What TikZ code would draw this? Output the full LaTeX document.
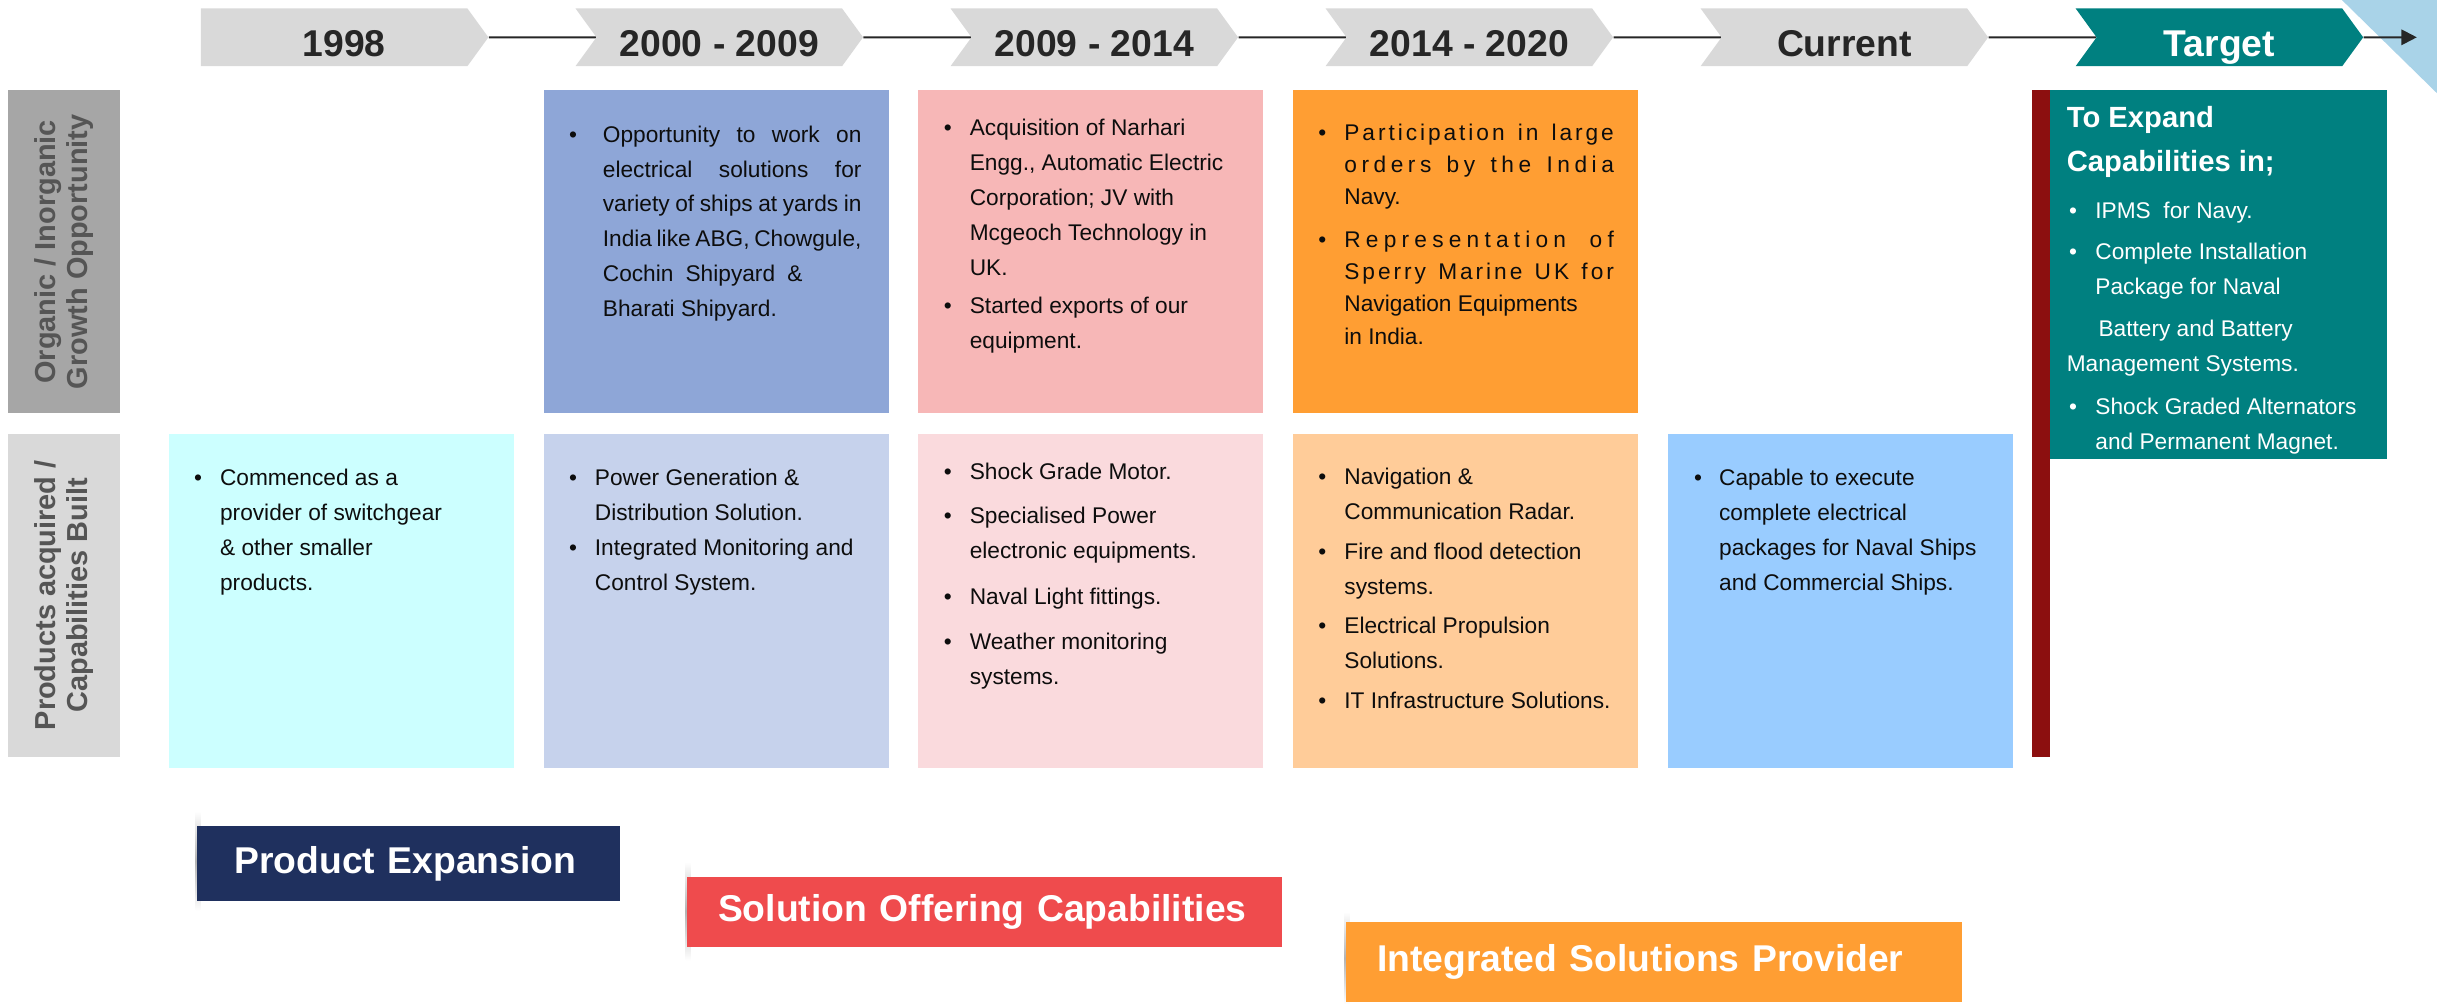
\documentclass[tikz,border=0pt]{standalone}
\usepackage{fontspec}
\setmainfont{Liberation Sans}
\usetikzlibrary{shapes.symbols,arrows.meta,backgrounds,positioning}

\definecolor{chevgrey}{HTML}{D9D9D9}
\definecolor{txtdark}{HTML}{262626}
\definecolor{targetteal}{HTML}{008080}
\definecolor{barred}{HTML}{8C0F0F}
\definecolor{skyblue}{HTML}{A9D3E8}
\definecolor{labdark}{HTML}{A6A6A6}
\definecolor{lablight}{HTML}{D9D9D9}
\definecolor{labtxt}{HTML}{555555}
\definecolor{bodytxt}{HTML}{0D0D0D}
\definecolor{oppblue}{HTML}{8EA6D7}
\definecolor{opppink}{HTML}{F7B7B7}
\definecolor{opporange}{HTML}{FF9E33}
\definecolor{capcyan}{HTML}{CCFFFF}
\definecolor{capblue}{HTML}{C6D2EC}
\definecolor{cappink}{HTML}{FADADD}
\definecolor{cappeach}{HTML}{FFCC99}
\definecolor{capsky}{HTML}{99CCFF}
\definecolor{bannavy}{HTML}{1F305E}
\definecolor{banred}{HTML}{EF4B4D}
\definecolor{banorange}{HTML}{FF9E33}

\newcommand{\bulmark}[1][16.7pt]{\makebox[#1][l]{\textbullet}}
\newcommand{\bulindent}[1][16.7pt]{\hspace*{#1}}
\newcommand{\spreadline}[2]{{\addfontfeature{LetterSpace=#1}\makebox[173.4pt][s]{#2}}}

\begin{document}
\begin{tikzpicture}[x=1pt, y=-1pt,
	yearbox/.style={shape=signal, signal to=east, signal from=west, signal pointer angle=108,
		fill=chevgrey, minimum width=185pt, minimum height=37.1pt, inner sep=0pt,
		font=\fontsize{24}{24}\selectfont\bfseries, text=txtdark, text height=25pt, text depth=0pt},
	cell/.style={anchor=north west, inner sep=0pt, outer sep=0pt},
	celltext/.style={anchor=north west, inner sep=0pt, align=left,
		font=\fontsize{14.6}{22.5}\selectfont, text=bodytxt},
	rowlabel/.style={rotate=90, inner sep=0pt, minimum width=208pt, minimum height=72.5pt,
		align=center, font=\fontsize{18.6}{20.5}\selectfont\bfseries, text=labtxt},
	banner/.style={anchor=north west, inner ysep=0pt, align=left, text=white,
		font=\fontsize{24}{24}\selectfont\bfseries},
	connline/.style={line width=1.3pt, draw=txtdark}]

		\useasboundingbox (0,0) rectangle (1568,646);

		% year chevrons
		\node[yearbox, signal from=nowhere] (y1998) at (215,24) {\hspace*{13pt}1998};
		\foreach \cx/\lab/\nm in {462.8/2000 - 2009/y2000, 704.1/2009 - 2014/y2009,
				945.4/2014 - 2020/y2014, 1186.7/Current/ycur}
			\node[yearbox] (\nm) at (\cx,24) {\lab};
		\node[yearbox, fill=targetteal, text=white] (ytarget) at (1428,24) {Target};
		\coordinate (arrowend) at (1555,24);

		% connectors (under the chevrons)
		\begin{scope}[on background layer]
			\fill[skyblue] (1506.8,0) -- (1568,0) -- (1568,60) -- cycle;
			\draw[connline] (y1998) -- (y2000);
			\draw[connline] (y2000) -- (y2009);
			\draw[connline] (y2009) -- (y2014);
			\draw[connline] (y2014) -- (ycur);
			\draw[connline] (ycur) -- (ytarget);
			\draw[connline, -{Triangle[length=10pt, width=10pt]}] (ytarget) -- (arrowend);
		\end{scope}

		% row labels
		\node[rowlabel, fill=labdark] (rowopp) at (41.25,162) {Organic / Inorganic\\Growth Opportunity};
		\node[rowlabel, fill=lablight] (rowcap) at (41.25,383) {Products acquired /\\Capabilities Built};

		%% Growth opportunity row %%
		\node[cell, fill=oppblue, minimum width=222pt, minimum height=208pt] (oppA) at (350,58) {};
		\node[cell, fill=opppink, minimum width=222pt, minimum height=208pt] (oppB) at (590.6,58) {};
		\node[cell, fill=opporange, minimum width=222pt, minimum height=208pt] (oppC) at (832,58) {};

		\node[celltext] (oppAtext) at (365.9,80.6) {%
			\bulmark[21.8pt]\makebox[166.4pt][s]{Opportunity to work on}\\
			\bulindent[21.8pt]\makebox[166.4pt][s]{electrical solutions for}\\
			\bulindent[21.8pt]\makebox[166.4pt][s]{variety of ships at yards in}\\
			\bulindent[21.8pt]\makebox[166.4pt][s]{India like ABG, Chowgule,}\\
			\bulindent[21.8pt]\makebox[128.4pt][s]{Cochin Shipyard \&}\\
			\bulindent[21.8pt]Bharati Shipyard.};
		\node[celltext] (oppBtext) at (607.1,76.3) {%
			\bulmark Acquisition of Narhari\\
			\bulindent Engg., Automatic Electric\\
			\bulindent Corporation; JV with\\
			\bulindent Mcgeoch Technology in\\
			\bulindent UK.\\[2.2pt]
			\bulmark Started exports of our\\
			\bulindent equipment.};
		\node[celltext, font=\fontsize{14.6}{20.8}\selectfont] (oppCtext) at (848.1,79.5) {%
			\bulmark\spreadline{13}{Participation in large}\\
			\bulindent\spreadline{20}{orders by the India}\\
			\bulindent Navy.\\[6.4pt]
			\bulmark\spreadline{23}{Representation of}\\
			\bulindent\spreadline{13}{Sperry Marine UK for}\\
			\bulindent Navigation Equipments\\
			\bulindent in India.};

		% target
		\node[cell, fill=barred, minimum width=11.4pt, minimum height=429pt] (targetbar) at (1307.6,58) {};
		\node[cell, fill=targetteal, minimum width=216.6pt, minimum height=237pt] (targetbox) at (1319,58) {};
		\node[celltext, text=white, font=\fontsize{18.8}{28}\selectfont\bfseries] (targethead) at (1329.6,68.3)
			{To Expand\\Capabilities in;};
		\node[celltext, text=white] (targettext) at (1329.6,129.9) {%
			\hspace*{1.5pt}\bulmark[16.9pt]IPMS\ \ for Navy.\\[3.8pt]
			\hspace*{1.5pt}\bulmark[16.9pt]Complete Installation\\
			\bulindent[18.4pt]Package for Naval\\[4.7pt]
			\bulindent[20.4pt]Battery and Battery\\
			Management Systems.\\[4.8pt]
			\hspace*{1.5pt}\bulmark[16.9pt]Shock Graded Alternators\\
			\bulindent[18.4pt]and Permanent Magnet.};

		%% Capabilities row %%
		\node[cell, fill=capcyan, minimum width=222pt, minimum height=215pt] (capA1) at (108.6,279) {};
		\node[cell, fill=capblue, minimum width=222pt, minimum height=215pt] (capA2) at (350,279) {};
		\node[cell, fill=cappink, minimum width=222pt, minimum height=215pt] (capB) at (590.6,279) {};
		\node[cell, fill=cappeach, minimum width=222pt, minimum height=215pt] (capC) at (832,279) {};
		\node[cell, fill=capsky, minimum width=222pt, minimum height=215pt] (capD) at (1073,279) {};

		\node[celltext] (capA1text) at (124.7,301.5) {%
			\bulmark Commenced as a\\
			\bulindent provider of switchgear\\
			\bulindent\& other smaller\\
			\bulindent products.};
		\node[celltext] (capA2text) at (365.9,301.5) {%
			\bulmark Power Generation \&\\
			\bulindent Distribution Solution.\\
			\bulmark Integrated Monitoring and\\
			\bulindent Control System.};
		\node[celltext] (capBtext) at (607.1,297.7) {%
			\bulmark Shock Grade Motor.\\[5.6pt]
			\bulmark Specialised Power\\
			\bulindent electronic equipments.\\[7.3pt]
			\bulmark Naval Light fittings.\\[6.5pt]
			\bulmark Weather monitoring\\
			\bulindent systems.};
		\node[celltext] (capCtext) at (848.1,301.1) {%
			\bulmark Navigation \&\\
			\bulindent Communication Radar.\\[3.2pt]
			\bulmark Fire and flood detection\\
			\bulindent systems.\\[2.6pt]
			\bulmark Electrical Propulsion\\
			\bulindent Solutions.\\[3.2pt]
			\bulmark IT Infrastructure Solutions.};
		\node[celltext] (capDtext) at (1089.8,301.5) {%
			\bulmark[16.1pt]Capable to execute\\
			\bulindent[16.1pt]complete electrical\\
			\bulindent[16.1pt]packages for Naval Ships\\
			\bulindent[16.1pt]and Commercial Ships.};

		%% Banners %%
		\shade[top color=white, bottom color=white, middle color=gray!60] (125.8,522) rectangle (129,586);
		\shade[top color=white, bottom color=white, middle color=gray!60] (441.2,554.5) rectangle (444.4,618);
		\shade[top color=white, bottom color=white, middle color=gray!60] (865.2,586.7) rectangle (868.4,646);
		\node[banner, fill=bannavy, minimum height=48.6pt, text width=223.8pt, inner xsep=24pt] (prodexp)
			at (126.6,531) {Product Expansion};
		\node[banner, fill=banred, minimum height=45pt, text width=342.9pt, inner xsep=19.8pt] (solcap)
			at (442,564) {Solution Offering Capabilities};
		\node[banner, fill=banorange, minimum height=51.9pt, text width=356.4pt, inner xsep=19.8pt] (intsol)
			at (866,592.7) {Integrated Solutions Provider};

	\end{tikzpicture}
\end{document}
